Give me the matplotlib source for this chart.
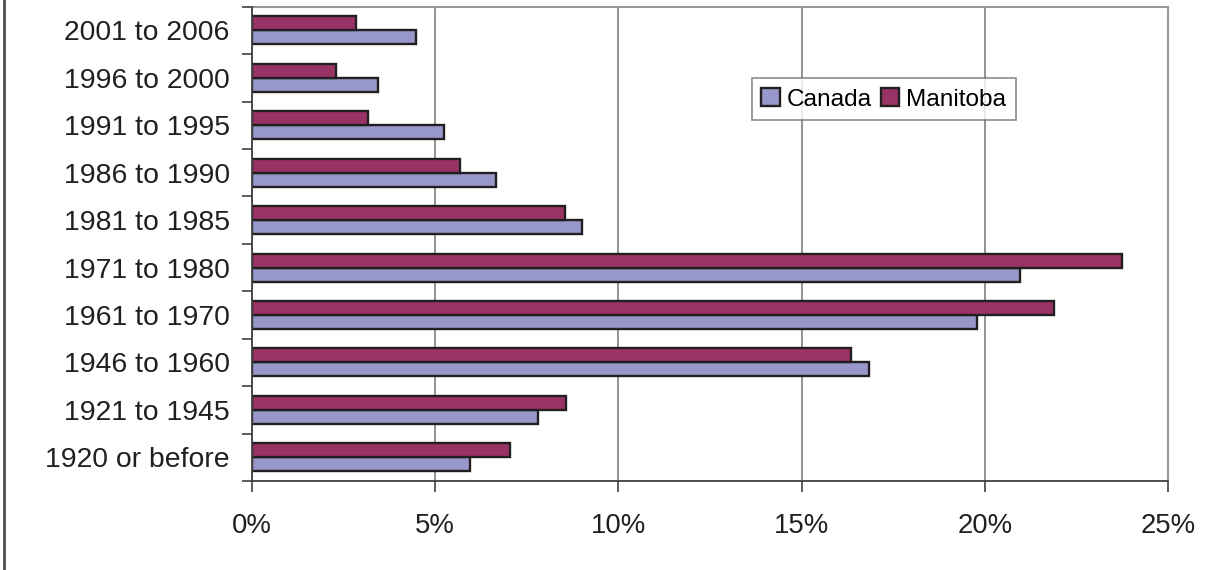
import numpy as np
import matplotlib.pyplot as plt
from matplotlib.lines import Line2D
from matplotlib.ticker import FuncFormatter, FixedLocator

plt.rcParams['font.family'] = ['Liberation Sans', 'DejaVu Sans']

periods = ['1920 or before', '1921 to 1945', '1946 to 1960', '1961 to 1970',
           '1971 to 1980', '1981 to 1985', '1986 to 1990', '1991 to 1995',
           '1996 to 2000', '2001 to 2006']
canada = [5.95, 7.81, 16.84, 19.80, 20.95, 9.01, 6.66, 5.24, 3.43, 4.48]
manitoba = [7.05, 8.58, 16.34, 21.88, 23.74, 8.53, 5.67, 3.16, 2.29, 2.83]

blue = '#9797ca'
maroon = '#993366'
edge = '#231f20'

fig = plt.figure(figsize=(12.15, 5.7), dpi=100)
ax = fig.add_axes([252 / 1215, 1 - 481 / 570, (1168 - 252) / 1215, (481 - 6.7) / 570])

y = np.arange(len(periods))
h = 0.295
ax.barh(y - h / 2, canada, height=h, color=blue, edgecolor=edge, linewidth=1.7,
        label='Canada', zorder=3)
ax.barh(y + h / 2, manitoba, height=h, color=maroon, edgecolor=edge, linewidth=1.7,
        label='Manitoba', zorder=3)

ax.set_xlim(0, 25)
ax.set_ylim(-0.5, len(periods) - 0.5)
ax.set_xticks(np.arange(0, 26, 5))
ax.xaxis.set_major_formatter(FuncFormatter(lambda v, p: f'{v:.0f}%'))
ax.set_yticks(y)
ax.set_yticklabels(periods)
ax.yaxis.set_minor_locator(FixedLocator(np.arange(-0.5, len(periods), 1.0)))

ax.tick_params(axis='y', which='major', length=0, pad=16, labelsize=20.4, colors='#231f20')
ax.tick_params(axis='y', which='minor', length=7, width=1.2, color='#404040')
ax.tick_params(axis='x', which='major', length=8, width=1.2, color='#404040',
               pad=15, labelsize=19.8, labelcolor='#231f20')

ax.grid(axis='x', color='#808080', linewidth=1.2, zorder=0)
for side in ['top', 'right']:
    ax.spines[side].set_color('#999999')
    ax.spines[side].set_linewidth(1.5)
for side in ['left', 'bottom']:
    ax.spines[side].set_color('#404040')
    ax.spines[side].set_linewidth(1.3)
    ax.spines[side].set_zorder(4)

leg = ax.legend(loc='upper left', bbox_to_anchor=(751.7 / 1215, 1 - 78.3 / 570),
                bbox_transform=fig.transFigure, ncol=2, frameon=True, fancybox=False,
                fontsize=17.6, borderaxespad=0, handlelength=0.75, handleheight=0.75,
                handletextpad=0.3, columnspacing=0.35, borderpad=0.4)
leg.get_frame().set_edgecolor('#707070')
leg.get_frame().set_linewidth(1.2)
for patch in leg.get_patches():
    patch.set_linewidth(1.7)

fig.add_artist(Line2D([4 / 1215, 4 / 1215], [0, 1], transform=fig.transFigure,
                      color='#505050', linewidth=2))

fig.savefig('out.png', dpi=100)
